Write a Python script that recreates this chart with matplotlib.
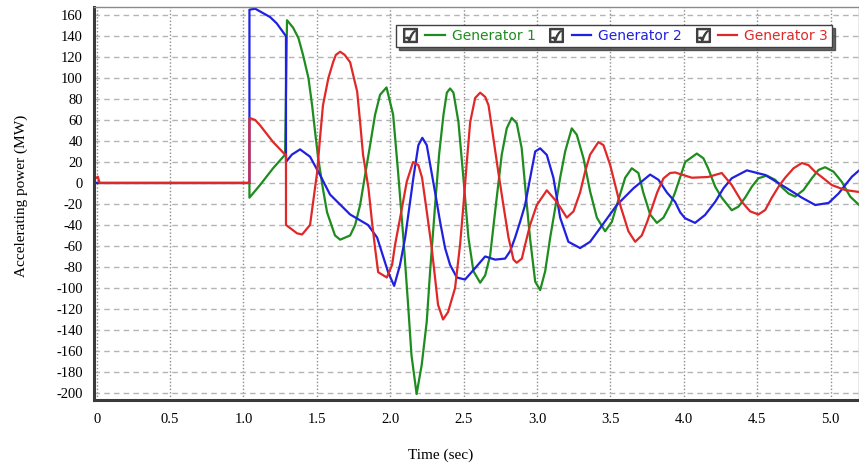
import matplotlib
matplotlib.use("Agg")
import matplotlib.pyplot as plt
from matplotlib.lines import Line2D
from matplotlib.legend_handler import HandlerTuple

# accelerating power of the three generators (t in s, P in MW)
t_gen1 = [0.0, 1.041, 1.041, 1.113, 1.202, 1.284, 1.297, 1.338, 1.375, 1.406, 1.443, 1.468,
          1.488, 1.509, 1.541, 1.570, 1.624, 1.659, 1.727, 1.761, 1.795, 1.829, 1.863, 1.897,
          1.931, 1.975, 2.020, 2.054, 2.090, 2.122, 2.145, 2.180, 2.215, 2.249, 2.272, 2.306,
          2.333, 2.363, 2.386, 2.408, 2.431, 2.465, 2.499, 2.533, 2.567, 2.613, 2.647, 2.681,
          2.715, 2.760, 2.794, 2.828, 2.862, 2.896, 2.931, 2.953, 2.988, 3.022, 3.056, 3.090,
          3.124, 3.158, 3.192, 3.237, 3.271, 3.317, 3.362, 3.408, 3.464, 3.510, 3.544, 3.601,
          3.646, 3.691, 3.724, 3.771, 3.817, 3.862, 3.907, 3.941, 4.010, 4.089, 4.134, 4.166,
          4.214, 4.259, 4.327, 4.373, 4.418, 4.464, 4.509, 4.566, 4.623, 4.668, 4.714, 4.759,
          4.816, 4.873, 4.918, 4.963, 5.020, 5.077, 5.134, 5.195]
p_gen1 = [0, 0, -14, -2, 14, 27, 155, 148, 138, 122, 100, 74,
          49, 24, -5, -28, -50, -54, -50, -40, -21, 7.6, 36, 65,
          84, 91, 65, 10, -53, -116, -164, -201, -173, -132, -84, -21,
          27, 65, 86, 90, 86, 58, 4.4, -52, -84, -95, -88, -69,
          -27, 27, 52, 62, 57, 33, -21, -53, -94, -102, -84, -52,
          -24, 5, 30, 52, 46, 23.5, -8, -33, -46, -37, -21, 5,
          14, 9.5, -9, -30, -38, -33, -21, -9, 20, 28, 23.5, 14,
          -3.5, -14, -26, -22.5, -14, -3.5, 4.5, 7, 3, -4, -10, -13,
          -6.7, 4.5, 12.4, 15, 10.8, 1, -13, -21]

t_gen2 = [0.0, 1.041, 1.041, 1.08, 1.182, 1.227, 1.284, 1.290, 1.290, 1.33, 1.386, 1.454,
          1.522, 1.590, 1.727, 1.849, 1.911, 1.986, 2.027, 2.067, 2.102, 2.158, 2.192, 2.219,
          2.249, 2.306, 2.340, 2.374, 2.408, 2.454, 2.510, 2.579, 2.647, 2.715, 2.783, 2.817,
          2.851, 2.885, 2.919, 2.953, 2.988, 3.022, 3.067, 3.112, 3.158, 3.214, 3.294, 3.362,
          3.430, 3.544, 3.658, 3.771, 3.828, 3.885, 3.941, 3.976, 4.009, 4.077, 4.145, 4.214,
          4.271, 4.327, 4.430, 4.555, 4.691, 4.805, 4.896, 4.987, 5.055, 5.100, 5.146, 5.195]
p_gen2 = [0, 0, 165, 166, 158, 152, 141, 140, 20, 27, 32, 25,
          7.6, -11, -30, -40, -52, -85, -98, -78, -52, 5, 36, 43,
          36, -9, -37, -62, -78, -90, -92, -81, -70, -73, -72, -65,
          -52, -37, -21, 4.4, 30, 33, 26.7, 5, -33, -56, -62, -56,
          -43, -21, -5, 8, 3, -9, -18, -28, -33.6, -38, -30.5, -18,
          -5, 4.5, 12, 7.6, -4, -14, -21, -19, -10, -2, 6, 12]

t_gen3 = [0.0, 0.008, 0.02, 1.041, 1.041, 1.08, 1.113, 1.202, 1.284, 1.290, 1.290, 1.366,
          1.400, 1.454, 1.502, 1.522, 1.542, 1.579, 1.611, 1.630, 1.659, 1.690, 1.727, 1.775,
          1.795, 1.815, 1.852, 1.876, 1.897, 1.918, 1.977, 2.013, 2.033, 2.068, 2.113, 2.156,
          2.192, 2.217, 2.249, 2.283, 2.326, 2.360, 2.394, 2.442, 2.476, 2.499, 2.522, 2.545,
          2.579, 2.613, 2.647, 2.670, 2.703, 2.737, 2.771, 2.806, 2.840, 2.862, 2.897, 2.919,
          2.953, 2.999, 3.067, 3.135, 3.203, 3.249, 3.294, 3.328, 3.362, 3.419, 3.453, 3.499,
          3.567, 3.623, 3.669, 3.714, 3.751, 3.819, 3.862, 3.907, 3.941, 4.055, 4.166, 4.259,
          4.327, 4.396, 4.452, 4.509, 4.555, 4.600, 4.646, 4.691, 4.748, 4.805, 4.850, 4.896,
          4.952, 5.009, 5.100, 5.195]
p_gen3 = [5, 6, 0, 0, 62, 60, 55, 39, 27, 27, -40, -48,
          -49, -40, 10, 43, 74, 100, 115, 122, 125, 122, 115, 87,
          58, 27, -5, -37, -62, -85, -90, -78, -59, -33, 1.3, 20,
          17, 5, -27, -62, -116, -130, -123, -100, -59, -21, 20, 58,
          81, 86, 82, 74, 42.5, 10, -21, -52, -73, -76, -72, -59,
          -40, -21, -7, -18, -33, -27, -9, 10.8, 27, 39, 36, 17,
          -21, -46, -56, -50, -37, -9, 4.4, 9.5, 10, 5, 5.7, 9.5,
          -2, -18, -27, -30, -25.7, -14, -3.5, 5, 14, 19, 17, 10.5,
          4.4, -2, -6.7, -8.6]

names = ["Generator 1", "Generator 2", "Generator 3"]
colors = ["#1e8c1e", "#2020e0", "#e02828"]

x_ticks = [0, 0.5, 1.0, 1.5, 2.0, 2.5, 3.0, 3.5, 4.0, 4.5, 5.0]
x_ticklabels = ["0", "0.5", "1.0", "1.5", "2.0", "2.5", "3.0", "3.5", "4.0", "4.5", "5.0"]
y_ticks = list(range(-200, 161, 20))

serif = "Liberation Serif"

fig = plt.figure(figsize=(8.59, 4.73), dpi=100)
ax = fig.add_axes([94 / 859, 73 / 473, 765 / 859, 393 / 473])

for t, p, c, name in zip([t_gen1, t_gen2, t_gen3], [p_gen1, p_gen2, p_gen3], colors, names):
    ax.plot(t, p, color=c, lw=1.6, label=name, solid_joinstyle="round")

ax.set_xlim(-0.018, 5.194)
ax.set_ylim(-206.7, 167.6)
ax.set_xticks(x_ticks)
ax.set_xticklabels(x_ticklabels, fontfamily=serif, fontsize=10.5)
ax.set_yticks(y_ticks)
ax.set_yticklabels([str(v) for v in y_ticks], fontfamily=serif, fontsize=10.5)
ax.tick_params(axis="both", length=0)
ax.tick_params(axis="x", pad=9)
ax.tick_params(axis="y", pad=8)

ax.yaxis.grid(True, ls=(0, (4, 3)), color="#b4b4b4", lw=1)
ax.xaxis.grid(True, ls=(0, (1, 1.5)), color="#8c8c8c", lw=1)
ax.set_axisbelow(True)

for side in ["left", "bottom"]:
    ax.spines[side].set_color("#3a3a3a")
    ax.spines[side].set_linewidth(2.2)
for side in ["top", "right"]:
    ax.spines[side].set_color("#8a8a8a")
    ax.spines[side].set_linewidth(1)

ax.set_xlabel("Time (sec)", fontfamily=serif, fontsize=11)
ax.xaxis.set_label_coords((441 - 94) / 765, (400 - 449) / 393)
ax.set_ylabel("Accelerating power (MW)", fontfamily=serif, fontsize=11)
ax.yaxis.set_label_coords((28 - 94) / 765, (400 - 196) / 393)

# legend entries look like a checkbox followed by the line sample
handles = []
for c in colors:
    box = Line2D([], [], ls="none", marker="$\u2611$", ms=10, color="#404040")
    line = Line2D([], [], color=c, lw=1.6)
    handles.append((box, line))

leg = ax.legend(handles, names, loc="center", bbox_to_anchor=(0.680, 0.926), ncol=3,
                handler_map={tuple: HandlerTuple(ndivide=None, pad=0.4)},
                handlelength=3.2, handletextpad=0.5, columnspacing=0.8, borderpad=0.3,
                fontsize=10, fancybox=False, framealpha=1, edgecolor="#404040",
                shadow={"color": "0.2", "alpha": 0.75})
leg.get_frame().set_linewidth(1)
for text, c in zip(leg.get_texts(), colors):
    text.set_color(c)

fig.savefig("out.png", dpi=100)
